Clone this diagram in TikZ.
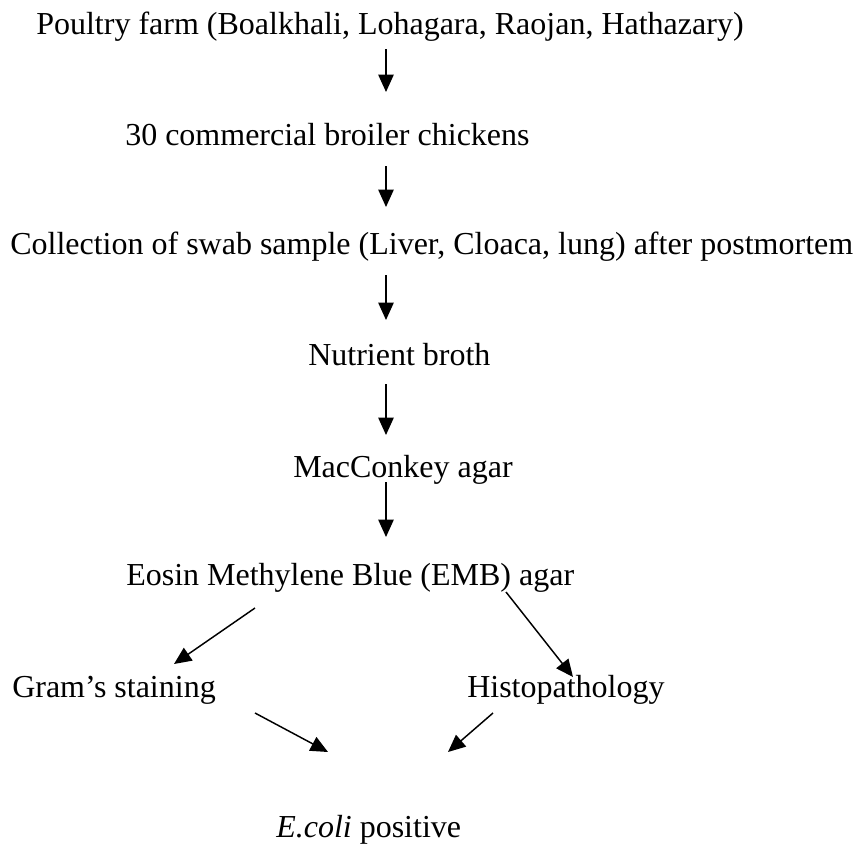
\documentclass[tikz,border=0pt]{standalone}
\usepackage{fontspec}
\setmainfont{Liberation Serif}
\usetikzlibrary{arrows.meta}

\begin{document}
\begin{tikzpicture}[x=0.75pt,y=0.75pt,yscale=-1,xscale=1,
  txt/.style={anchor=base west,inner sep=0pt,font=\fontsize{24}{28}\selectfont},
  arr/.style={line width=1.1pt,-{Triangle[length=13pt,width=11.5pt]}}]
%set diagram left start at 0, and has height of 846
\useasboundingbox (0,0) rectangle (860,846);

% Text Node
\node [txt] (farm) at (36,34) {Poultry farm (Boalkhali, Lohagara, Raojan, Hathazary)};
% Text Node
\node [txt] (chick) at (125,145) {30 commercial broiler chickens};
% Text Node
\node [txt] (swab) at (10,254) {Collection of swab sample (Liver, Cloaca, lung) after postmortem};
% Text Node
\node [txt] (broth) at (308,365) {Nutrient broth};
% Text Node
\node [txt] (mac) at (293,477) {MacConkey agar};
% Text Node
\node [txt] (emb) at (126,585) {Eosin Methylene Blue (EMB) agar};
% Text Node
\node [txt] (gram) at (12,697) {Gram’s staining};
% Text Node
\node [txt] (histo) at (467,697) {Histopathology};
% Text Node
\node [txt] (ecoli) at (276,837) {\textit{E.coli} positive};

%Straight Lines
\foreach \i/\ya/\yb in {1/49/92,2/166/207,3/275/320,4/384/435,5/482/537}{
  \coordinate (s\i) at (386,\ya);
  \coordinate (e\i) at (386,\yb);
  \draw [arr] (s\i) -- (e\i);
}

%Straight Lines
\coordinate (embl) at (255,608);
\coordinate (gramt) at (174,664);
\draw [arr] (embl) -- (gramt);
\coordinate (embr) at (506,592);
\coordinate (histot) at (573,677);
\draw [arr] (embr) -- (histot);
\coordinate (gramb) at (255,713);
\coordinate (ecolil) at (328,752);
\draw [arr] (gramb) -- (ecolil);
\coordinate (histob) at (493,713);
\coordinate (ecolir) at (448,752);
\draw [arr] (histob) -- (ecolir);

\end{tikzpicture}
\end{document}
